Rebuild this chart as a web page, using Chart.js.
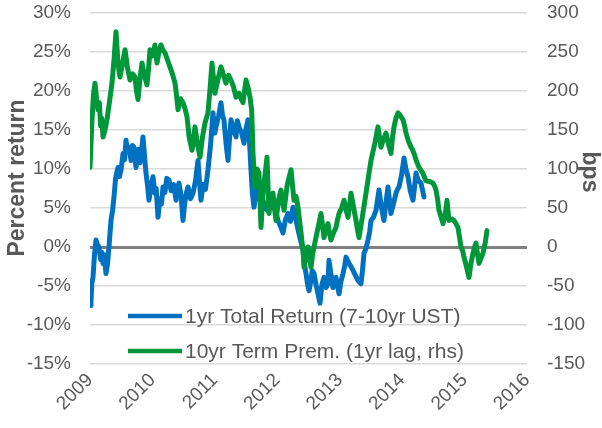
<!DOCTYPE html>
<html>
<head>
<meta charset="utf-8">
<script src="https://cdn.jsdelivr.net/npm/chart.js@4/dist/chart.umd.min.js"></script>
<style>
html,body{margin:0;padding:0;background:#ffffff;}
#wrap{width:602px;height:428px;position:relative;}
</style>
</head>
<body>
<div id="wrap"><canvas id="c"></canvas></div>
<script>
// ---- Data ----
const xTickLabels = ['2009','2010','2011','2012','2013','2014','2015','2016'];
const leftTickLabels = ['-15%','-10%','-5%','0%','5%','10%','15%','20%','25%','30%'];
const rightTickLabels = ['-150','-100','-50','0','50','100','150','200','250','300'];

const seriesNames = ['1yr Total Return (7-10yr UST)', '10yr Term Prem. (1yr lag, rhs)'];

// 1yr total return, percent (left axis)
const returnDates = [2009.000,2009.016,2009.030,2009.048,2009.070,2009.096,2009.120,2009.144,2009.170,2009.190,
  2009.208,2009.230,2009.256,2009.280,2009.304,2009.336,2009.360,2009.384,2009.410,2009.448,
  2009.470,2009.497,2009.530,2009.555,2009.577,2009.600,2009.630,2009.657,2009.680,2009.705,
  2009.737,2009.770,2009.801,2009.830,2009.849,2009.870,2009.897,2009.920,2009.945,2009.975,
  2010.009,2010.040,2010.060,2010.089,2010.120,2010.145,2010.169,2010.200,2010.230,2010.265,
  2010.300,2010.340,2010.378,2010.400,2010.426,2010.460,2010.490,2010.520,2010.545,2010.570,
  2010.610,2010.650,2010.690,2010.730,2010.755,2010.778,2010.810,2010.850,2010.890,2010.930,
  2010.970,2011.000,2011.018,2011.060,2011.098,2011.120,2011.146,2011.180,2011.211,2011.235,
  2011.259,2011.300,2011.339,2011.360,2011.387,2011.430,2011.467,2011.500,2011.531,2011.555,
  2011.579,2011.600,2011.627,2011.660,2011.691,2011.730,2011.771,2011.810,2011.851,2011.890,
  2011.931,2011.970,2012.011,2012.050,2012.091,2012.130,2012.172,2012.210,2012.252,2012.275,
  2012.300,2012.350,2012.412,2012.435,2012.460,2012.485,2012.508,2012.540,2012.560,2012.588,
  2012.620,2012.652,2012.684,2012.715,2012.748,2012.780,2012.812,2012.828,2012.860,2012.892,
  2012.915,2012.940,2012.965,2012.989,2013.020,2013.053,2013.080,2013.101,2013.149,2013.180,
  2013.213,2013.250,2013.293,2013.341,2013.365,2013.389,2013.420,2013.453,2013.480,2013.501,
  2013.540,2013.581,2013.605,2013.629,2013.670,2013.709,2013.740,2013.773,2013.800,2013.821,
  2013.860,2013.902,2013.925,2013.950,2013.990,2014.030,2014.060,2014.094,2014.130,2014.174,
  2014.200,2014.222,2014.260,2014.302,2014.350];
const returnValues = [-7.5,-6.9,-4.6,-3.9,-1.2,0.9,0.3,0.0,-1.6,-0.7,
  -2.1,-1.0,-3.4,-2.2,0.0,3.4,4.6,6.4,8.8,10.2,
  9.0,9.9,12.0,11.2,13.7,12.2,12.8,11.1,13.0,12.8,
  10.2,12.5,10.8,12.7,14.1,12.0,9.5,8.0,6.0,7.6,
  9.0,6.9,7.5,3.8,6.2,5.5,7.7,7.0,8.8,8.6,
  7.2,8.0,6.0,7.5,8.2,6.5,3.4,5.8,7.0,7.7,
  6.2,6.9,8.5,11.1,8.2,6.0,8.0,7.4,9.9,13.0,
  17.2,14.6,15.4,16.8,18.5,17.0,16.3,13.2,11.1,14.0,
  16.3,15.0,14.1,16.2,15.4,14.6,13.3,15.2,16.3,13.5,
  9.9,7.0,5.1,6.8,7.7,5.8,6.0,4.9,4.7,6.3,
  5.1,4.8,3.4,2.7,1.8,3.5,4.3,3.3,5.1,4.5,
  3.4,1.6,-0.4,-2.2,-3.4,-4.8,-5.6,-4.3,-3.0,-3.4,
  -4.8,-6.0,-7.2,-4.8,-3.9,-5.2,-4.7,-1.7,-3.5,-5.2,
  -4.0,-3.9,-5.0,-6.0,-4.4,-3.4,-2.4,-1.3,-2.1,-2.5,
  -3.0,-3.6,-4.3,-4.7,-3.0,-0.8,-0.2,0.9,2.0,3.4,
  3.8,4.7,6.0,7.3,5.0,3.4,5.6,7.7,5.8,4.3,
  5.5,6.9,7.4,7.7,9.2,11.4,10.0,9.0,7.2,6.0,
  7.8,9.5,8.5,8.2,6.4];

// 10yr term premium, bps (right axis)
const premDates = [2009.000,2009.030,2009.055,2009.080,2009.105,2009.128,2009.150,2009.170,2009.190,2009.208,
  2009.240,2009.272,2009.310,2009.352,2009.385,2009.416,2009.445,2009.465,2009.481,2009.520,
  2009.561,2009.600,2009.641,2009.680,2009.721,2009.745,2009.769,2009.800,2009.833,2009.870,
  2009.913,2009.940,2009.961,2010.000,2010.041,2010.073,2010.105,2010.137,2010.170,2010.201,
  2010.240,2010.281,2010.320,2010.362,2010.385,2010.410,2010.450,2010.490,2010.520,2010.554,
  2010.590,2010.634,2010.660,2010.682,2010.720,2010.762,2010.800,2010.842,2010.890,2010.920,
  2010.954,2010.980,2011.002,2011.050,2011.098,2011.140,2011.178,2011.220,2011.259,2011.300,
  2011.339,2011.387,2011.420,2011.451,2011.475,2011.499,2011.530,2011.563,2011.590,2011.611,
  2011.643,2011.675,2011.707,2011.739,2011.771,2011.800,2011.835,2011.867,2011.900,2011.931,
  2011.955,2011.979,2012.020,2012.059,2012.085,2012.108,2012.160,2012.220,2012.245,2012.268,
  2012.300,2012.332,2012.380,2012.412,2012.428,2012.460,2012.492,2012.515,2012.540,2012.565,
  2012.588,2012.640,2012.700,2012.725,2012.748,2012.780,2012.812,2012.835,2012.860,2012.900,
  2012.940,2012.965,2012.989,2013.030,2013.069,2013.100,2013.133,2013.160,2013.181,2013.220,
  2013.261,2013.285,2013.309,2013.365,2013.421,2013.460,2013.501,2013.560,2013.613,2013.640,
  2013.661,2013.700,2013.741,2013.780,2013.821,2013.845,2013.870,2013.900,2013.934,2013.975,
  2014.014,2014.040,2014.062,2014.100,2014.142,2014.165,2014.190,2014.230,2014.270,2014.330,
  2014.382,2014.440,2014.494,2014.520,2014.542,2014.570,2014.590,2014.625,2014.655,2014.690,
  2014.719,2014.735,2014.751,2014.790,2014.831,2014.860,2014.895,2014.920,2014.943,2014.970,
  2014.991,2015.030,2015.071,2015.100,2015.135,2015.160,2015.183,2015.205,2015.231,2015.260,
  2015.295,2015.330,2015.359];
const premValues = [102,160,195,210,190,176,185,155,165,141,
  150,163,185,210,240,276,240,225,218,235,
  253,230,214,222,218,200,189,215,236,220,
  208,230,253,245,259,236,250,259,252,249,
  240,231,222,210,195,176,190,185,178,167,
  140,124,140,154,132,115,140,159,172,200,
  236,215,197,215,231,220,210,220,214,205,
  192,197,190,185,200,214,205,192,175,120,
  77,100,95,25,69,90,115,43,62,69,
  50,34,60,73,58,47,80,99,78,60,
  65,51,18,-4,-26,-10,0,-14,-26,-10,
  0,20,43,28,12,22,30,18,9,18,
  25,35,43,50,60,48,38,55,69,52,
  34,22,12,40,69,90,111,132,154,140,
  128,138,146,132,120,140,154,165,172,168,
  163,155,146,136,128,125,120,110,102,95,
  85,84,82,78,73,60,47,38,30,42,
  60,45,34,36,34,30,25,12,0,-5,
  -13,-25,-39,-22,-8,0,5,-8,-21,-15,
  -8,5,21];

const seriesColors = ['#0070c0', '#00963a'];

// ---- Build chart ----
const legendRowsY = [316, 351];
const customLegend = {
  id: 'customLegend',
  afterDraw(chart) {
    const ctx = chart.ctx;
    ctx.save();
    ctx.font = '21px "Liberation Sans", Arial, sans-serif';
    ctx.textBaseline = 'middle';
    ctx.textAlign = 'left';
    chart.data.datasets.forEach((ds, i) => {
      const y = legendRowsY[i];
      ctx.strokeStyle = ds.borderColor;
      ctx.lineWidth = 4.5;
      ctx.beginPath();
      ctx.moveTo(128, y);
      ctx.lineTo(182, y);
      ctx.stroke();
      ctx.fillStyle = '#595959';
      ctx.fillText(ds.label, 185, y + 1);
    });
    ctx.restore();
  }
};

const axisTitles = {
  id: 'axisTitles',
  afterDraw(chart) {
    const ctx = chart.ctx;
    ctx.save();
    ctx.font = 'bold 23px "Liberation Sans", Arial, sans-serif';
    ctx.fillStyle = '#595959';
    ctx.textAlign = 'center';
    ctx.textBaseline = 'middle';
    ctx.translate(18, 178);
    ctx.rotate(-Math.PI / 2);
    ctx.fillText('Percent return', 0, 0);
    ctx.restore();
    ctx.save();
    ctx.font = 'bold 23px "Liberation Sans", Arial, sans-serif';
    ctx.fillStyle = '#595959';
    ctx.textAlign = 'center';
    ctx.textBaseline = 'middle';
    ctx.translate(589, 172);
    ctx.rotate(Math.PI / 2);
    ctx.fillText('bps', 0, 0);
    ctx.restore();
  }
};

const tickFont = { family: '"Liberation Sans", Arial, sans-serif', size: 19 };
function noVertPad(s) { s.paddingTop = 0; s.paddingBottom = 0; }

new Chart(document.getElementById('c'), {
  type: 'line',
  data: {
    datasets: [
      {
        label: seriesNames[0],
        data: returnDates.map((d, i) => ({ x: d, y: returnValues[i] })),
        borderColor: seriesColors[0],
        borderWidth: 5,
        pointRadius: 0,
        tension: 0,
        borderJoinStyle: 'round',
        borderCapStyle: 'round',
        yAxisID: 'y',
        order: 1
      },
      {
        label: seriesNames[1],
        data: premDates.map((d, i) => ({ x: d, y: premValues[i] })),
        borderColor: seriesColors[1],
        borderWidth: 5,
        pointRadius: 0,
        tension: 0,
        borderJoinStyle: 'round',
        borderCapStyle: 'round',
        yAxisID: 'y2',
        order: 0
      }
    ]
  },
  options: {
    responsive: true,
    maintainAspectRatio: false,
    animation: false,
    devicePixelRatio: 1,
    layout: { padding: { top: 13, left: 0, right: 0, bottom: 0 } },
    plugins: { legend: { display: false }, tooltip: { enabled: false } },
    scales: {
      x: {
        type: 'linear',
        min: 2009,
        max: 2016,
        afterFit(s) { s.height = 64; s.paddingLeft = 0; s.paddingRight = 0; },
        afterBuildTicks(s) { s.ticks = xTickLabels.map(t => ({ value: Number(t) })); },
        grid: { display: false, drawTicks: false },
        border: { display: false },
        ticks: {
          font: tickFont,
          color: '#595959',
          minRotation: 45,
          maxRotation: 45,
          padding: 5,
          callback: (v, i) => xTickLabels[i]
        }
      },
      y: {
        position: 'left',
        min: -15,
        max: 30,
        afterFit(s) { s.width = 90; noVertPad(s); },
        afterBuildTicks(s) { s.ticks = leftTickLabels.map(t => ({ value: parseFloat(t) })); },
        border: { display: false },
        grid: {
          drawTicks: false,
          color: c => (c.tick && c.tick.value === 0) ? '#808080' : '#d9d9d9',
          lineWidth: c => (c.tick && c.tick.value === 0) ? 3 : 1.5
        },
        ticks: {
          font: tickFont,
          color: '#595959',
          padding: 19,
          callback: (v, i) => leftTickLabels[i]
        }
      },
      y2: {
        position: 'right',
        min: -150,
        max: 300,
        afterFit(s) { s.width = 75; noVertPad(s); },
        afterBuildTicks(s) { s.ticks = rightTickLabels.map(t => ({ value: Number(t) })); },
        border: { display: false },
        grid: { display: false, drawTicks: false },
        ticks: {
          font: tickFont,
          color: '#595959',
          padding: 20,
          callback: (v, i) => rightTickLabels[i]
        }
      }
    }
  },
  plugins: [customLegend, axisTitles]
});
</script>
</body>
</html>
